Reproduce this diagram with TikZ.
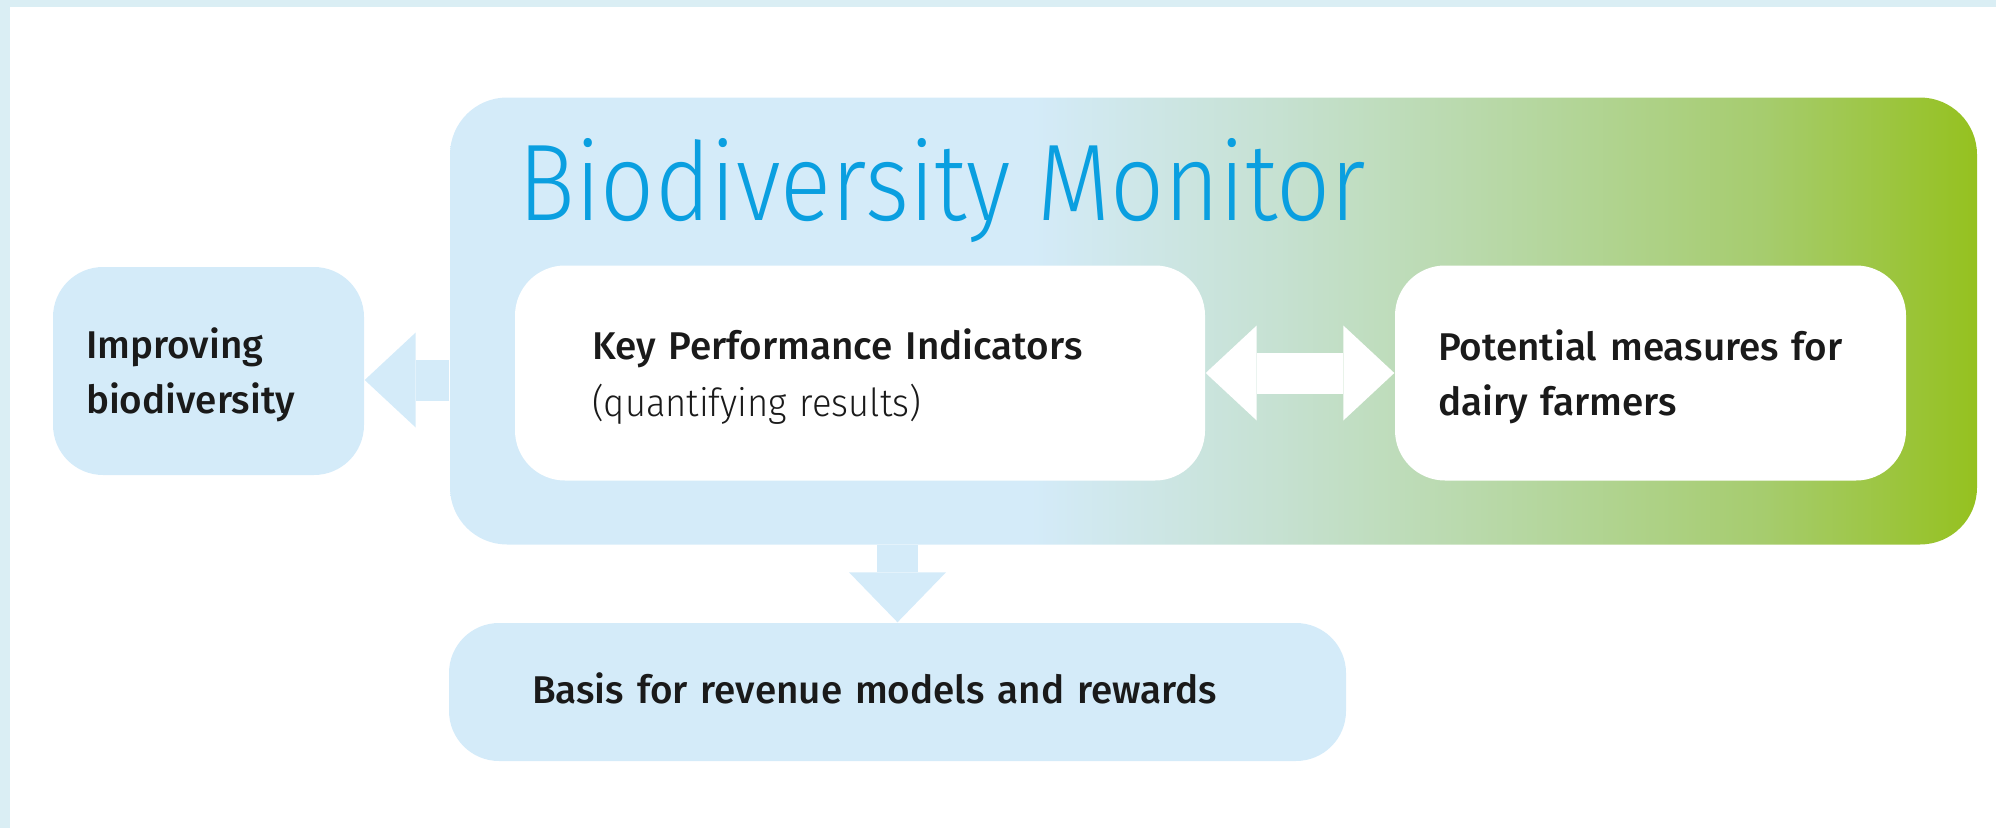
\documentclass[tikz,border=0pt]{standalone}
\usepackage{fontspec}
\setmainfont{Fira Sans}
\newfontfamily\medfont{Fira Sans}[UprightFont=* Medium]
\newfontfamily\lightfont{Fira Sans}[UprightFont=* Light,FakeStretch=0.87]
\newfontfamily\thinfont{Fira Sans}[UprightFont=* Light,FakeStretch=0.94]
\usetikzlibrary{arrows.meta,calc}

\definecolor{bmframe}{HTML}{DAEEF4}
\definecolor{bmblue}{HTML}{D4EBF9}
\definecolor{bmmid}{HTML}{C6E1D2}
\definecolor{bmlgreen}{HTML}{B4D69C}
\definecolor{bmgreen2}{HTML}{A6CC6E}
\definecolor{bmgreen}{HTML}{95C11F}
\definecolor{bmcyan}{HTML}{0A9FE0}
\definecolor{bmtext}{HTML}{1A1A1A}
\pgfdeclarehorizontalshading{bmshade}{100bp}{color(0bp)=(bmblue); color(25bp)=(bmblue); color(44bp)=(bmblue); color(52bp)=(bmmid); color(61bp)=(bmlgreen); color(68bp)=(bmgreen2); color(75bp)=(bmgreen); color(100bp)=(bmgreen)}

\tikzset{
  panel/.style={rounded corners=5mm, inner sep=0pt, align=left, text=bmtext,
    font=\medfont\fontsize{11}{15.5}\selectfont},
  twoline/.style={text height=10.8pt},
  fatarrow/.style={line width=4.1mm},
  bmtip/.tip={Triangle[length=5.1mm,width=9.5mm,line width=0pt]},
  bmdowntip/.tip={Triangle[length=5mm,width=9.7mm,line width=0pt]}
}

\begin{document}
\begin{tikzpicture}[x=.1mm,y=-.1mm]
\useasboundingbox (0,0) rectangle (1996,828);
\fill[bmframe] (0,0) rectangle (1996,7);\fill[bmframe] (0,0) rectangle (10,828);
% main frame with the colour run
\node[panel, rounded corners=5.7mm, shading=bmshade, minimum width=152.7mm, minimum height=44.7mm] (monitor) at (1213.5,321) {};
\node[anchor=base west, inner sep=0pt, text=bmcyan, font=\lightfont\fontsize{31}{31}\selectfont] (title) at (518,221) {Biodiversity Monitor};
% side boxes
\node[panel, twoline, fill=bmblue, minimum width=31.1mm, minimum height=20.8mm, text width=24.5mm] (improve) at (208.5,371) {Improving\\biodiversity};
\node[panel, fill=bmblue, minimum width=89.7mm, minimum height=13.8mm, text width=73.1mm, text depth=2.3pt] (basis) at (897.5,692) {Basis for revenue models and rewards};
% arrows
\draw[bmblue, fatarrow, -{bmtip}] ($(monitor.west |- improve.east)+(0,9)$) -- ($(improve.east)+(0,9)$);
\draw[bmblue, fatarrow, -{bmdowntip}] (basis.north |- monitor.south) -- (basis.north);
% inner boxes
\node[panel, twoline, fill=white, minimum width=69.0mm, minimum height=21.5mm, text width=53.6mm, font=\medfont\fontsize{11}{16.3}\selectfont] (kpi) at (860,373) {Key Performance Indicators\\{\thinfont(quantifying results)}};
\node[panel, twoline, fill=white, minimum width=51.1mm, minimum height=21.5mm, text width=42.5mm] (potential) at (1650.5,373) {Potential measures for\\dairy farmers};
\draw[white, fatarrow, {bmtip}-{bmtip}] (kpi) -- (potential);
\end{tikzpicture}
\end{document}
